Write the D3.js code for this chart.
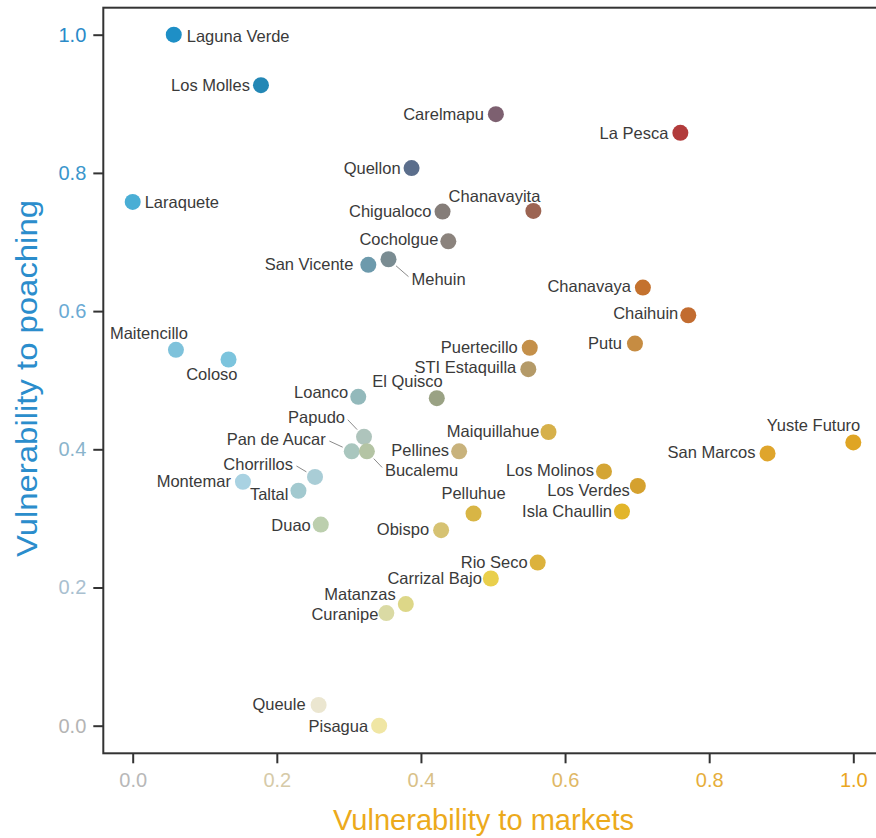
<!DOCTYPE html>
<html><head><meta charset="utf-8">
<script src="https://cdn.jsdelivr.net/npm/d3@7"></script>
<style>html,body{margin:0;padding:0;background:#fff;}svg{display:block;}</style>
</head><body>
<svg id="chart" width="876" height="838"></svg>
<script>
// ---------- data ----------
const sites = ["Laguna Verde","Los Molles","Laraquete","Carelmapu","La Pesca","Quellon","Chanavayita","Chigualoco","Cocholgue","San Vicente","Mehuin","Chanavaya","Chaihuin","Putu","Puertecillo","STI Estaquilla","Maitencillo","Coloso","Loanco","El Quisco","Papudo","Pan de Aucar","Bucalemu","Maiquillahue","Pellines","Chorrillos","Montemar","Taltal","Los Molinos","Los Verdes","Isla Chaullin","Yuste Futuro","San Marcos","Pelluhue","Obispo","Duao","Rio Seco","Carrizal Bajo","Matanzas","Curanipe","Queule","Pisagua"];
const marketVuln = [0.057,0.178,0.0,0.504,0.760,0.387,0.556,0.430,0.438,0.327,0.355,0.708,0.771,0.697,0.551,0.549,0.060,0.133,0.313,0.422,0.321,0.304,0.325,0.577,0.453,0.253,0.153,0.230,0.654,0.701,0.679,1.0,0.881,0.473,0.428,0.261,0.562,0.497,0.379,0.352,0.258,0.342];
const poachingVuln = [1.0,0.927,0.758,0.885,0.858,0.807,0.745,0.744,0.701,0.667,0.675,0.634,0.594,0.553,0.547,0.516,0.544,0.530,0.476,0.474,0.418,0.397,0.397,0.425,0.397,0.360,0.353,0.340,0.368,0.347,0.310,0.410,0.394,0.307,0.283,0.291,0.236,0.213,0.176,0.163,0.030,0.0];
const xTicks = [0.0,0.2,0.4,0.6,0.8,1.0];
const yTicks = [0.0,0.2,0.4,0.6,0.8,1.0];
const xTitle = "Vulnerability to markets";
const yTitle = "Vulnerability to poaching";

// ---------- styles ----------
const pointColors = ["#1e8fc6","#2387b5","#4aaed5","#7d6070","#b23b3b","#5b6e8c","#9c6452","#857d79","#8b837d","#6d9aac","#7a8c92","#c4722e","#c26c30","#c68c42","#c4904a","#b49a68","#7ec2db","#7cc4dd","#93b9bb","#9aa284","#aec4bc","#a9c6be","#b4c4a4","#d6b04a","#c8b27c","#a9cdd6","#a9d2e2","#a2c9cf","#d4a535","#d5a12e","#e2b52a","#dfa524","#dfa52c","#d8b545","#d6c272","#bccfae","#dcb23c","#e9cf4c","#ddd788","#dadaa4","#ebe6d0","#f0e6a4"];
const xTickColors = ["#b8b8b8","#d6caa8","#d9c188","#e0b866","#e6ae3a","#eaa620"];
const yTickColors = ["#b4b4b4","#a9c0d0","#8ab4cc","#6aaad4","#3a96cc","#2a8ac8"];
// label placement: [anchor, dx, dy, leader]
const labelPlace = {
 "Laguna Verde":["start",13,1], "Los Molles":["end",-11,0], "Laraquete":["start",12,0],
 "Carelmapu":["end",-12,0], "La Pesca":["end",-12,0], "Quellon":["end",-11,0],
 "Chanavayita":["end",7,-15], "Chigualoco":["end",-11,-1], "Cocholgue":["end",-10,-2],
 "San Vicente":["end",-15,-1], "Mehuin":["start",23,20,true], "Chanavaya":["end",-12,-2],
 "Chaihuin":["end",-10,-2], "Putu":["end",-13,-1], "Puertecillo":["end",-12,-1],
 "STI Estaquilla":["end",-12,-2], "Maitencillo":["middle",-27,-17], "Coloso":["end",9,15],
 "Loanco":["end",-10,-5], "El Quisco":["end",6,-17], "Papudo":["end",-19,-20,true],
 "Pan de Aucar":["end",-26,-12,true], "Bucalemu":["start",18,19,true], "Maiquillahue":["end",-9,-1],
 "Pellines":["end",-10,-1], "Chorrillos":["end",-22,-13,true], "Montemar":["end",-12,-1],
 "Taltal":["end",-10,3], "Los Molinos":["end",-10,-1], "Los Verdes":["end",-8,4],
 "Isla Chaullin":["end",-10,0], "Yuste Futuro":["end",7,-17], "San Marcos":["end",-12,-1],
 "Pelluhue":["middle",0,-21], "Obispo":["end",-12,-1], "Duao":["end",-10,0],
 "Rio Seco":["end",-10,-1], "Carrizal Bajo":["end",-9,-1], "Matanzas":["end",-10,-10],
 "Curanipe":["end",-8,1], "Queule":["end",-13,-1], "Pisagua":["end",-11,0]
};

const svg = d3.select("#chart");
const x = d3.scaleLinear().domain([0,1]).range([132.7,853.3]);
const y = d3.scaleLinear().domain([0,1]).range([725.7,34.7]);
const frame = {left:103.3, top:7.7, bottom:753.3, right:884};
const fmt = d3.format(".1f");
const font = "'Liberation Sans', Arial, Helvetica, sans-serif";

// frame
svg.append("rect").attr("x",frame.left).attr("y",frame.top)
  .attr("width",frame.right-frame.left).attr("height",frame.bottom-frame.top)
  .attr("fill","none").attr("stroke","#333").attr("stroke-width",2);

// axes
const gx = svg.append("g").attr("transform",`translate(0,${frame.bottom})`)
  .call(d3.axisBottom(x).tickValues(xTicks).tickSize(10).tickPadding(10).tickFormat(fmt));
const gy = svg.append("g").attr("transform",`translate(${frame.left},0)`)
  .call(d3.axisLeft(y).tickValues(yTicks).tickSize(10).tickPadding(7).tickFormat(fmt));
[gx,gy].forEach(g=>{
  g.select(".domain").remove();
  g.selectAll(".tick line").attr("stroke","#333").attr("stroke-width",2);
  g.selectAll(".tick text").attr("font-family",font).attr("font-size",20);
});
gx.selectAll(".tick text").attr("fill",(d,i)=>xTickColors[i]);
gy.selectAll(".tick text").attr("fill",(d,i)=>yTickColors[i]);

// titles
svg.append("text").attr("x",483.5).attr("y",830).attr("text-anchor","middle")
  .attr("font-family",font).attr("font-size",29).attr("fill","#ecaa1c")
  .attr("textLength",301).attr("lengthAdjust","spacingAndGlyphs").text(xTitle);
svg.append("text").attr("transform","translate(37,378.5) rotate(-90)").attr("text-anchor","middle")
  .attr("font-family",font).attr("font-size",29).attr("fill","#2b8dcc")
  .attr("textLength",357).attr("lengthAdjust","spacingAndGlyphs").text(yTitle);

const rows = sites.map((s,i)=>({name:s, mx:marketVuln[i], py:poachingVuln[i], color:pointColors[i]}));

// leader lines
const lead = svg.append("g");
rows.forEach(r=>{
  const p = labelPlace[r.name];
  if(!p[3]) return;
  const cx = x(r.mx), cy = y(r.py);
  const ang = Math.atan2(p[2], p[1]);
  const len = Math.hypot(p[1],p[2]);
  lead.append("line")
    .attr("x1",cx+Math.cos(ang)*10).attr("y1",cy+Math.sin(ang)*10)
    .attr("x2",cx+Math.cos(ang)*(len-4)).attr("y2",cy+Math.sin(ang)*(len-4))
    .attr("stroke","#8a8a8a").attr("stroke-width",1);
});

// points
svg.append("g").selectAll("circle").data(rows).join("circle")
  .attr("cx",d=>x(d.mx)).attr("cy",d=>y(d.py)).attr("r",8).attr("fill",d=>d.color);

// labels
svg.append("g").selectAll("text").data(rows).join("text")
  .attr("x",d=>x(d.mx)+labelPlace[d.name][1])
  .attr("y",d=>y(d.py)+labelPlace[d.name][2])
  .attr("text-anchor",d=>labelPlace[d.name][0])
  .attr("dominant-baseline","central")
  .attr("font-family",font).attr("font-size",16.5).attr("fill","#3a3a3a")
  .text(d=>d.name);
</script>
</body></html>
